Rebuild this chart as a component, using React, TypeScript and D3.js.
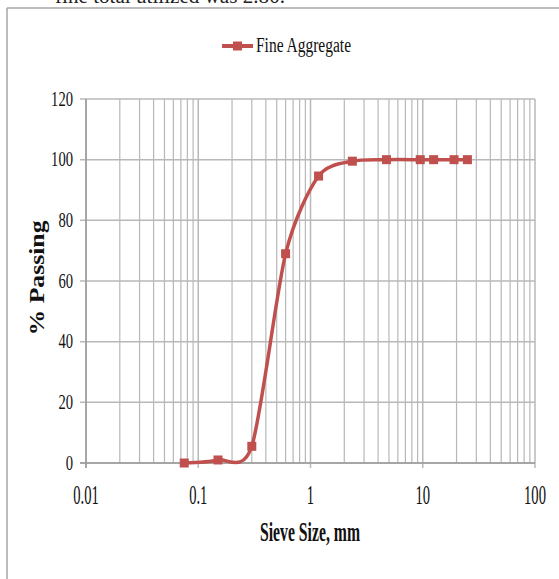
import React from 'react';
import * as d3 from 'd3';

// sieve sizes (mm) and % passing
const SIEVE = [0.075, 0.15, 0.3, 0.6, 1.18, 2.36, 4.75, 9.5, 12.5, 19, 25];
const PASSING = [0, 1, 5.5, 69, 94.6, 99.5, 100, 100, 100, 100, 100];
const Y_TICKS = [0, 20, 40, 60, 80, 100, 120];
const X_TICKS = [0.01, 0.1, 1, 10, 100];
const SERIES_NAME = 'Fine Aggregate';

const W = 559, H = 579;
const margin = { top: 99, right: 24, bottom: 116, left: 86 };
const RED = '#c0504d';
const GRID = '#b8b8b8';
const FONT = '"Liberation Serif", "Times New Roman", serif';

// narrow, tall text like the picture: width by digit count
const labelWidth = (s: string) => s.split('').reduce((a, c) => a + (c === '.' ? 3.6 : 7.3), 0);

const App = () => {
  const x = d3.scaleLog().domain([0.01, 100]).range([margin.left, W - margin.right]);
  const y = d3.scaleLinear().domain([0, 120]).range([H - margin.bottom, margin.top]);

  const minor: number[] = [];
  for (let d = -2; d < 2; d++) {
    for (let m = 2; m <= 9; m++) minor.push(m * Math.pow(10, d));
  }

  const pts: [number, number][] = SIEVE.map((s, i) => [x(s), y(PASSING[i])]);
  const line = d3.line().curve(d3.curveCardinal.tension(0.2))(pts) || '';

  const [x0, x1] = x.range();
  const [y0, y1] = y.range();

  return (
    <svg width={W} height={H} style={{ position: 'absolute', left: 0, top: 0, background: '#fff' }} fontFamily={FONT}>
      {/* document text cut at the top */}
      <text x={55} y={3} fontSize={22} textLength={230} lengthAdjust="spacingAndGlyphs" fill="#222">fine total utilized was 2.80.</text>
      {/* chart frame */}
      <line x1={7} x2={W} y1={8} y2={8} stroke="#a6a6a6" strokeWidth={1.5} />
      <line x1={7} x2={7} y1={8} y2={H} stroke="#a6a6a6" strokeWidth={1.5} />

      {/* legend */}
      <g>
        <line x1={222} x2={253} y1={46} y2={46} stroke={RED} strokeWidth={4} />
        <rect x={233} y={41.5} width={9} height={9} fill={RED} />
        <text x={256} y={52} fontSize={20} textLength={95} lengthAdjust="spacingAndGlyphs" fill="#111">{SERIES_NAME}</text>
      </g>

      {/* grid */}
      {minor.map(v => (
        <line key={'m' + v} x1={x(v)} x2={x(v)} y1={y1} y2={y0} stroke={GRID} strokeWidth={1.2} />
      ))}
      {X_TICKS.map(v => (
        <line key={'x' + v} x1={x(v)} x2={x(v)} y1={y1} y2={y0 + 5} stroke={GRID} strokeWidth={1.5} />
      ))}
      {Y_TICKS.map(v => (
        <line key={'y' + v} x1={x0 - 6} x2={x1} y1={y(v)} y2={y(v)} stroke={GRID} strokeWidth={1.5} />
      ))}
      {/* axes */}
      <line x1={x0} x2={x0} y1={y1} y2={y0 + 5} stroke="#9a9a9a" strokeWidth={1.5} />
      <line x1={x0 - 6} x2={x1} y1={y0} y2={y0} stroke="#9a9a9a" strokeWidth={1.5} />

      {/* tick labels */}
      {Y_TICKS.map(v => (
        <text key={'yl' + v} x={73} y={y(v) + 6.5} fontSize={22} textAnchor="end"
          textLength={labelWidth(String(v))} lengthAdjust="spacingAndGlyphs" fill="#111">{v}</text>
      ))}
      {X_TICKS.map(v => (
        <text key={'xl' + v} x={x(v)} y={y0 + 41} fontSize={27} textAnchor="middle"
          textLength={labelWidth(String(v))} lengthAdjust="spacingAndGlyphs" fill="#111">{String(v)}</text>
      ))}

      {/* axis titles */}
      <text x={310} y={541} fontSize={28} fontWeight="bold" textAnchor="middle" textLength={100}
        lengthAdjust="spacingAndGlyphs" fill="#111">Sieve Size, mm</text>
      <text transform="translate(44,278) rotate(-90)" fontSize={21} fontWeight="bold" textAnchor="middle"
        textLength={115} lengthAdjust="spacingAndGlyphs" fill="#111">% Passing</text>

      {/* series */}
      <path d={line} fill="none" stroke={RED} strokeWidth={3.5} />
      {pts.map((p, i) => (
        <rect key={'p' + i} x={p[0] - 4.5} y={p[1] - 4.5} width={9} height={9} fill={RED} />
      ))}
    </svg>
  );
};

export default App;
